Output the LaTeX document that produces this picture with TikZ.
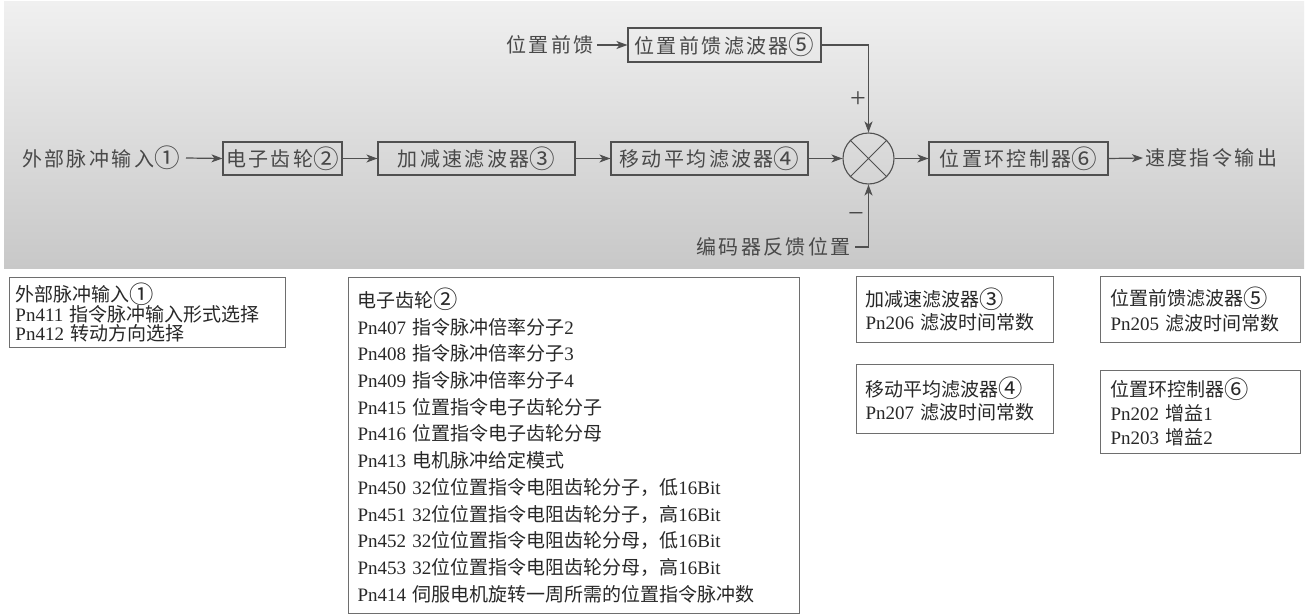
\documentclass[tikz,border=0pt]{standalone}
\usepackage{fontspec}
\setmainfont{Liberation Serif}
\newfontfamily\cjk{Noto Sans CJK SC}
\newfontfamily\cjks[LetterSpace=12]{Noto Sans CJK SC}
\usetikzlibrary{arrows.meta}
\definecolor{bandtop}{RGB}{240,240,240}
\definecolor{bandbot}{RGB}{200,200,200}
\definecolor{ink}{RGB}{72,72,72}
\definecolor{darkink}{RGB}{40,40,40}
\definecolor{edge}{RGB}{80,80,80}
\definecolor{frame}{RGB}{110,110,110}
\newcommand\zh[1]{{\cjk #1}}
\newcommand\cd[1]{\raisebox{-0.07em}{\scalebox{1.28}{#1}}}
\begin{document}
\begin{tikzpicture}[x=1pt,y=-1pt,
  toptext/.style={inner sep=0pt, text=ink, font=\fontsize{20}{24}\selectfont\cjks},
  blk/.style={draw=edge, line width=1.1pt, inner sep=0pt, minimum height=33pt, text=ink, font=\fontsize{20}{24}\selectfont\cjks},
  conn/.style={draw=edge, line width=1.2pt, -{Stealth[length=11pt,width=8pt,inset=3pt]}},
  infobox/.style={draw=frame, line width=1pt, anchor=north west, align=left, text=darkink, inner ysep=0pt},
  sign/.style={inner sep=0pt, text=ink, font=\fontsize{28}{28}\selectfont},
]
\useasboundingbox[fill=white] (0,0) rectangle (1306,615);
\shade[top color=bandtop, bottom color=bandbot] (4,2) rectangle (1304,268);

% top row
\node[toptext, anchor=west] (in1) at (22,158) {外部脉冲输入\cd{①}};
\node[blk, minimum width=119pt] (b2) at (282.5,158.5) {电子齿轮\cd{②}};
\node[blk, minimum width=197pt] (b3) at (476.5,158.5) {加减速滤波器\cd{③}};
\node[blk, minimum width=197pt] (b4) at (709.5,158.5) {移动平均滤波器\cd{④}};
\node[circle, draw=edge, line width=1.1pt, minimum size=51pt, inner sep=0pt] (sum) at (868.5,158.5) {};
\draw[edge, line width=0.9pt] (sum.north west) -- (sum.south east) (sum.north east) -- (sum.south west);
\node[blk, minimum width=193pt, minimum height=34pt] (b5) at (724.5,45) {位置前馈滤波器\cd{⑤}};
\node[toptext, anchor=east] (ff) at (594,45) {位置前馈};
\node[blk, minimum width=179pt] (b6) at (1018.5,158.5) {位置环控制器\cd{⑥}};
\node[toptext, anchor=west] (out) at (1145,158) {速度指令输出};
\node[toptext, anchor=east] (enc) at (851,247) {编码器反馈位置};
\node[sign] (plus) at (858,100) {+};
\node[sign] (minus) at (856,218) {−};

\draw[conn] ([xshift=6pt]in1.east) -- (b2.west);
\draw[conn] (b2.east) -- (b3.west);
\draw[conn] (b3.east) -- (b4.west);
\draw[conn] (b4.east) -- (sum.west);
\draw[conn] ([xshift=3pt]ff.east) -- (b5.west);
\draw[conn] (b5.east) -| (sum.north);
\draw[conn] ([xshift=4pt]enc.east) -| (sum.south);
\draw[conn] (sum.east) -- (b6.west);
\draw[conn] (b6.east) -- ([xshift=-2pt]out.west);

% info boxes
\node[infobox, inner xsep=6pt, text width=264pt, minimum height=70pt, font=\fontsize{19}{19.5}\selectfont] (iA) at (9,277)
  {\zh{外部脉冲输入\cd{①}}\\Pn411 \zh{指令脉冲输入形式选择}\\Pn412 \zh{转动方向选择}};
\node[infobox, inner xsep=9pt, text width=433pt, minimum height=336pt, font=\fontsize{19}{26.7}\selectfont] (iB) at (348,277)
  {\zh{电子齿轮\cd{②}}\\
   Pn407 \zh{指令脉冲倍率分子}2\\
   Pn408 \zh{指令脉冲倍率分子}3\\
   Pn409 \zh{指令脉冲倍率分子}4\\
   Pn415 \zh{位置指令电子齿轮分子}\\
   Pn416 \zh{位置指令电子齿轮分母}\\
   Pn413 \zh{电机脉冲给定模式}\\
   Pn450 32\zh{位位置指令电阻齿轮分子，低}16Bit\\
   Pn451 32\zh{位位置指令电阻齿轮分子，高}16Bit\\
   Pn452 32\zh{位位置指令电阻齿轮分母，低}16Bit\\
   Pn453 32\zh{位位置指令电阻齿轮分母，高}16Bit\\
   Pn414 \zh{伺服电机旋转一周所需的位置指令脉冲数}};
\node[infobox, inner xsep=9pt, text width=179pt, minimum height=66pt, font=\fontsize{19}{23}\selectfont] (iC) at (856,276)
  {\zh{加减速滤波器\cd{③}}\\Pn206 \zh{滤波时间常数}};
\node[infobox, inner xsep=9pt, text width=179pt, minimum height=69pt, font=\fontsize{19}{23}\selectfont] (iD) at (856,364)
  {\zh{移动平均滤波器\cd{④}}\\Pn207 \zh{滤波时间常数}};
\node[infobox, inner xsep=10pt, text width=180pt, minimum height=66pt, font=\fontsize{19}{25}\selectfont] (iE) at (1100,276)
  {\zh{位置前馈滤波器\cd{⑤}}\\Pn205 \zh{滤波时间常数}};
\node[infobox, inner xsep=10pt, text width=180pt, minimum height=83pt, font=\fontsize{19}{24}\selectfont] (iF) at (1100,370)
  {\zh{位置环控制器\cd{⑥}}\\Pn202 \zh{增益}1\\Pn203 \zh{增益}2};
\end{tikzpicture}
\end{document}
